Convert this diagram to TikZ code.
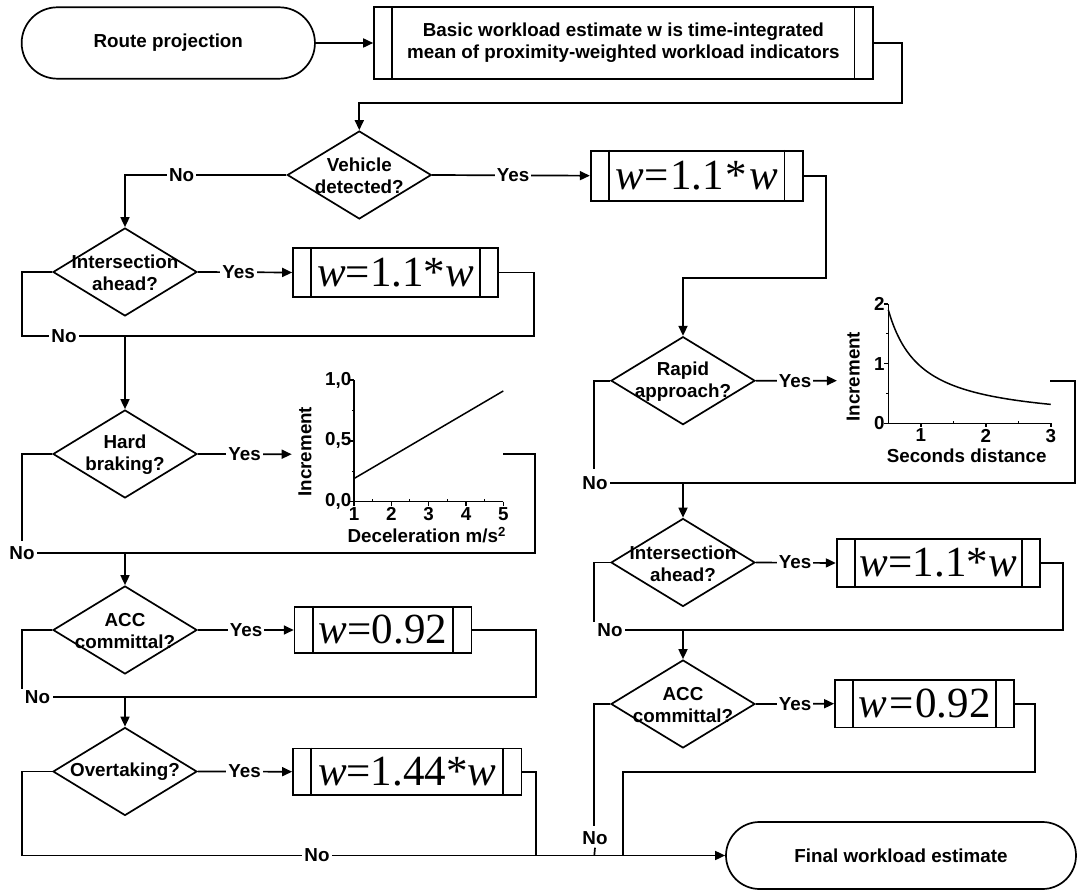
\documentclass[tikz,border=0pt]{standalone}
\usepackage{fontspec}
\setmainfont{Liberation Sans}
\newfontfamily\formulafont{Liberation Serif}
\usetikzlibrary{shapes.geometric,arrows.meta}
\begin{document}
\begin{tikzpicture}[x=1pt,y=-1pt,
  line width=1.7pt,
  every node/.style={font=\fontsize{18.8}{22}\selectfont\bfseries},
  terminal/.style={draw, rectangle, inner sep=0pt},
  proc/.style={draw, rectangle, inner sep=0pt},
  formula/.style={proc, font=\formulafont\fontsize{43}{44}\selectfont},
  decision/.style={draw, diamond, minimum width=144pt, minimum height=88pt, inner sep=0pt},
  qtext/.style={align=center, inner sep=0pt},
  lbl/.style={fill=white, inner sep=2pt},
  arr/.style={-{Triangle[length=10pt,width=9pt]}},
  ticklbl/.style={inner sep=0pt}
]
\useasboundingbox (0,0) rectangle (1080,890);

% ---------- terminals ----------
\node[terminal, minimum width=293.3pt, minimum height=71.4pt, rounded corners=35.7pt] (start) at (168.3,43) {Route projection};
\node[terminal, minimum width=350pt, minimum height=67pt, rounded corners=33.5pt] (final) at (901,855.5) {Final workload estimate};

% ---------- process boxes ----------
\node[proc, minimum width=498.7pt, minimum height=71.4pt, align=center] (basic) at (623.4,43)
  {Basic workload estimate w is time-integrated\\mean of proximity-weighted workload indicators};
\node[formula, minimum width=212pt, minimum height=50pt] (w1) at (696.7,175.7) {\textit{w}\kern1pt=\kern1pt1.1\kern2pt*\kern2pt\textit{w}};
\node[formula, minimum width=205pt, minimum height=48.4pt] (w2) at (395.5,272.5) {\textit{w}=1.1*\textit{w}};
\node[formula, minimum width=176.8pt, minimum height=46.6pt] (w3) at (383,630) {\textit{w}=0.92};
\node[formula, minimum width=228.5pt, minimum height=46.7pt] (w4) at (407.2,771.7) {\textit{w}=1.44*\textit{w}};
\node[formula, minimum width=203.3pt, minimum height=47.4pt] (w5) at (938.3,563) {\textit{w}=1.1*\textit{w}};
\node[formula, minimum width=179pt, minimum height=47.3pt] (w6) at (924.5,703.7) {\textit{w}\kern2pt=\kern2pt0.92};
\foreach \b in {basic,w1,w2,w3,w4,w5,w6} {
  \draw ([xshift=19pt]\b.north west) -- ([xshift=19pt]\b.south west);
  \draw ([xshift=-19pt]\b.north east) -- ([xshift=-19pt]\b.south east);
}

% ---------- decisions ----------
\node[decision] (veh) at (359.3,175) {};
\node[qtext] (tveh) at (359.3,176) {Vehicle\\detected?};
\node[decision] (intL) at (125,272) {};
\node[qtext] (tintL) at (125,273) {Intersection\\ahead?};
\node[decision] (brake) at (125,454) {};
\node[qtext] (tbrake) at (125,455) {Hard\\braking?};
\node[decision] (accL) at (125,630) {};
\node[qtext] (taccL) at (125,631) {ACC\\committal?};
\node[decision] (over) at (125,771.5) {};
\node[qtext] (tover) at (125,772) {Overtaking?};
\node[decision] (rapid) at (683,380.7) {};
\node[qtext] (trapid) at (683,381.7) {Rapid\\approach?};
\node[decision] (intR) at (683,562.5) {};
\node[qtext] (tintR) at (683,563.5) {Intersection\\ahead?};
\node[decision] (accR) at (683,704) {};
\node[qtext] (taccR) at (683,705) {ACC\\committal?};

% ---------- increment curve for hard braking ----------
\begin{scope}[shift={(316.67,501.7)}, x=37.33pt, y=121.7pt, line width=1.5pt]
  \coordinate (g1in) at (-0.67,0.39);
  \coordinate (g1out) at (5,0.39);
  \draw (1,0) -- (5,0);
  \draw (1,0) -- (1,1);
  \foreach \t in {1,2,3,4,5} \draw (\t,0) -- ++(0,-4pt);
  \foreach \t in {1.5,2.5,3.5,4.5} \draw[line width=1pt] (\t,0) -- ++(0,2.5pt);
  \foreach \t in {0,0.5,1} \draw (1,\t) -- ++(-4pt,0);
  \foreach \t in {0.25,0.75} \draw[line width=1pt] (1,\t) -- ++(-2.5pt,0);
  \draw (1,0.19) -- (5,0.91);
  \foreach \t in {1,2,3,4,5} \node[ticklbl, anchor=north] (xl\t) at ([yshift=-5pt]\t,0) {\t};
  \node[ticklbl, anchor=east] (yl0) at ([xshift=-2pt]1,0) {0,0};
  \node[ticklbl, anchor=east] (yl5) at ([xshift=-2pt]1,0.5) {0,5};
  \node[ticklbl, anchor=east] (yl10) at ([xshift=-2pt]1,1) {1,0};
\end{scope}
\node[rotate=90, inner sep=0pt] (inc1) at (305,451.7) {Increment};
\node[inner sep=0pt] (dec1) at (426.7,535) {Deceleration m/s\textsuperscript{2}};

% ---------- increment curve for rapid approach ----------
\begin{scope}[shift={(855.8,423.3)}, x=65pt, y=59.7pt, line width=1.5pt]
  \coordinate (g2in) at (-0.29,0.714);
  \coordinate (g2out) at (2.99,0.714);
  \draw (0.5,0) -- (3,0);
  \draw (0.5,0) -- (0.5,2);
  \foreach \t in {1,2,3} \draw (\t,0) -- ++(0,-4pt);
  \foreach \t in {1.5,2.5} \draw[line width=1pt] (\t,0) -- ++(0,2.5pt);
  \foreach \t in {0,1,2} \draw (0.5,\t) -- ++(-4pt,0);
  \foreach \t in {0.5,1.5} \draw[line width=1pt] (0.5,\t) -- ++(-2.5pt,0);
  \draw[domain=0.5:3, samples=60, smooth] plot (\x,{0.95/\x});
  \foreach \t in {1,2,3} \node[ticklbl, anchor=north] (xr\t) at ([yshift=-5pt]\t,0) {\t};
  \foreach \t in {0,1,2} \node[ticklbl, anchor=east] (yr\t) at ([xshift=-3pt]0.5,\t) {\t};
\end{scope}
\node[rotate=90, inner sep=0pt] (inc2) at (853.3,376.7) {Increment};
\node[inner sep=0pt] (sec2) at (966.7,456) {Seconds distance};

% ---------- junction points ----------
\coordinate (c2) at (901.7,102.7);
\coordinate (c4) at (826,277.7);
\coordinate (c5) at (534,336);
\coordinate (c6) at (22,336);
\coordinate (j1) at (125,336);
\coordinate (c7) at (535,553);
\coordinate (c8) at (22,541);
\coordinate (j2) at (125,553);
\coordinate (c9) at (535.7,696.7);
\coordinate (c10) at (22,689);
\coordinate (j3) at (125,696.7);
\coordinate (c11) at (535.7,855.5);
\coordinate (c12) at (22,855.5);
\coordinate (c13) at (1075,483.3);
\coordinate (c14) at (594.3,469);
\coordinate (j4) at (683,483.3);
\coordinate (c15) at (1063.3,630);
\coordinate (c16) at (594.3,622);
\coordinate (j5) at (683,630);
\coordinate (c17) at (1035,771.7);
\coordinate (c18) at (623.3,855.5);
\coordinate (c19) at (594.3,826);
\coordinate (c20) at (594.3,855.5);

% ---------- connectors ----------
\draw[arr] (start) -- (basic);
\draw[arr] (basic.east) -| (c2) -| (veh.north);
\draw[arr] (veh.west) -| (intL.north);
\draw[arr] (veh.east) -- (w1.west);
\draw[arr] (w1.east) -| (c4) -| (rapid.north);

\draw[arr] (intL.east) -- (w2.west);
\draw (w2.east) -| (c5) -- (c6) |- (intL.west);
\draw[arr] (j1) -- (brake.north);

\draw[arr] (brake.east) -- (g1in);
\node[lbl] (noBrake) at (22,553) {No};
\draw (g1out) -| (c7) -- (noBrake.east);
\draw (brake.west) -| (c8);
\draw[arr] (j2) -- (accL.north);

\draw[arr] (accL.east) -- (w3.west);
\node[lbl] (noAccL) at (37.5,696.7) {No};
\draw (w3.east) -| (c9) -- (noAccL.east);
\draw (accL.west) -| (c10);
\draw[arr] (j3) -- (over.north);

\draw[arr] (over.east) -- (w4.west);
\draw (w4.east) -| (c11);
\draw[arr] (over.west) -| (c12) -- (final.west);

\draw[arr] (rapid.east) -- (g2in);
\node[lbl] (noRapid) at (595,483.3) {No};
\draw (g2out) -| (c13) -- (noRapid.east);
\draw (rapid.west) -| (c14);
\draw[arr] (j4) -- (intR.north);

\draw[arr] (intR.east) -- (w5.west);
\node[lbl] (noIntR) at (610,630) {No};
\draw (w5.east) -| (c15) -- (noIntR.east);
\draw (intR.west) -| (c16);
\draw[arr] (j5) -- (accR.north);

\draw[arr] (accR.east) -- (w6.west);
\draw (w6.east) -| (c17) -| (c18);
\node[lbl] (noAccR) at (595,838.3) {No};
\draw (accR.west) -| (c19);
\draw (noAccR.south) -- (c20);

% ---------- branch labels ----------
\node[lbl] (noVeh) at (181.7,175) {No};
\node[lbl] (yesVeh) at (513,175) {Yes};
\node[lbl] (yesIntL) at (238.6,272) {Yes};
\node[lbl] (noIntL) at (64,336) {No};
\node[lbl] (yesBrake) at (244.6,454) {Yes};
\node[lbl] (yesAccL) at (246,630) {Yes};
\node[lbl] (yesOver) at (244.6,771.5) {Yes};
\node[lbl] (noOver) at (317,855.5) {No};
\node[lbl] (yesRapid) at (795,380.7) {Yes};
\node[lbl] (yesIntR) at (795,562.5) {Yes};
\node[lbl] (yesAccR) at (795,704) {Yes};
\end{tikzpicture}
\end{document}
